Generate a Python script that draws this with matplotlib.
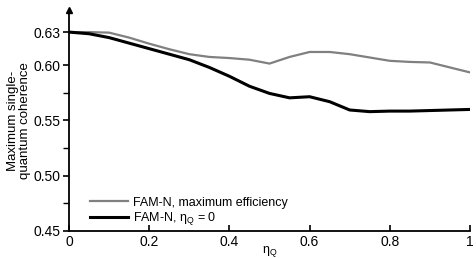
import numpy as np
import matplotlib
matplotlib.use('Agg')
import matplotlib.pyplot as plt

plt.rcParams['font.family'] = ['Liberation Sans', 'DejaVu Sans']

eta_q = [0.00, 0.05, 0.10, 0.15, 0.20, 0.25, 0.30, 0.35, 0.40, 0.45, 0.50,
         0.55, 0.60, 0.65, 0.70, 0.75, 0.80, 0.85, 0.90, 0.95, 1.00]
max_eff = [0.630, 0.630, 0.6295, 0.625, 0.6195, 0.6145, 0.6100, 0.6075, 0.6065, 0.605, 0.6015,
           0.6075, 0.612, 0.612, 0.610, 0.607, 0.604, 0.603, 0.6025, 0.598, 0.5935]
eta_zero = [0.630, 0.6285, 0.625, 0.620, 0.615, 0.6100, 0.605, 0.598, 0.590, 0.581, 0.5745,
            0.5705, 0.5715, 0.567, 0.5595, 0.558, 0.5585, 0.5585, 0.559, 0.5595, 0.560]
y_ticks = [0.45, 0.50, 0.55, 0.60, 0.63]
y_tick_labels = ['0.45', '0.50', '0.55', '0.60', '0.63']
x_ticks = [0, 0.2, 0.4, 0.6, 0.8, 1]
x_tick_labels = ['0', '0.2', '0.4', '0.6', '0.8', '1']

fig = plt.figure(figsize=(4.77, 2.58), dpi=100)
ax = fig.add_axes([0.1447, 0.1047, 0.8406, 0.8566])

ax.plot(eta_q, max_eff, color='#808080', linewidth=1.6, solid_joinstyle='round',
        label='FAM-N, maximum efficiency')
ax.plot(eta_q, eta_zero, color='black', linewidth=2.2, solid_joinstyle='round',
        label='FAM-N, $\\mathregular{η_Q}$ = 0')

ax.set_xlim(0, 1)
ax.set_ylim(0.45, 0.65)
ax.set_yticks(y_ticks)
ax.set_yticklabels(y_tick_labels)
ax.set_yticks([0.475, 0.525, 0.575], minor=True)
ax.set_xticks(x_ticks)
ax.set_xticklabels(x_tick_labels)

for side in ['top', 'right']:
    ax.spines[side].set_visible(False)
for side in ['left', 'bottom']:
    ax.spines[side].set_linewidth(1.3)

ax.tick_params(axis='y', direction='out', length=4, width=1.2, labelsize=10, pad=2)
ax.tick_params(axis='y', which='minor', direction='out', length=4, width=1.0)
ax.tick_params(axis='x', direction='in', length=4, width=1.2, labelsize=10, pad=3)

# arrow on top of y axis
ax.plot(0, 0.65, marker='^', color='black', markersize=4, clip_on=False,
        transform=ax.get_yaxis_transform())

ax.set_ylabel('Maximum single-\nquantum coherence', fontsize=9.5, labelpad=2, linespacing=1.0)
ax.set_xlabel('$\\mathregular{η_Q}$', fontsize=9, labelpad=-4)

ax.legend(loc='lower left', bbox_to_anchor=(0.025, -0.035), frameon=False, fontsize=9,
          handlelength=3.0, handletextpad=0.4, labelspacing=0.15)

fig.savefig('out.png', dpi=100)
